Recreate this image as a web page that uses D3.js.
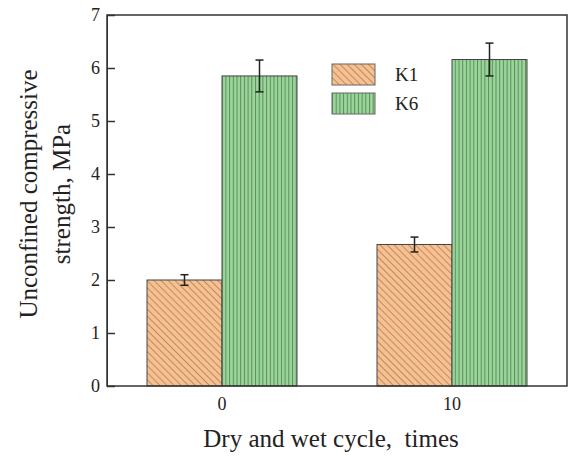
<html><head>
  <script src="https://d3js.org/d3.v7.min.js"></script>
  <style>
  body { margin: 0; background: #fff; }
  svg text { font-family: "Liberation Serif", "DejaVu Serif", serif; fill: #222; }
  .axis line, .axis path { stroke: #333; }
  </style>
</head>
<body>
  <svg id="chart" width="569" height="456"></svg>
  <script>
    // data
    const cycles = ["0", "10"];
    const seriesNames = ["K1", "K6"];
    const k1Values = [2.0, 2.67];
    const k1Errors = [0.1, 0.14];
    const k6Values = [5.85, 6.16];
    const k6Errors = [0.3, 0.31];
    const yTicks = [0, 1, 2, 3, 4, 5, 6, 7];

    const rows = cycles.map((c, i) => ({
      cycle: c,
      K1: {v: k1Values[i], e: k1Errors[i]},
      K6: {v: k6Values[i], e: k6Errors[i]}
    }));

    const serif = "'Liberation Serif', 'DejaVu Serif', serif";
    let svg = d3.select("svg#chart");
    const margins = {"top":15, "right":2, "bottom":70, "left":107};
    const chartWidth = 569 - margins.left - margins.right;
    const chartHeight = 456 - margins.top - margins.bottom;

    // hatch patterns
    let defs = svg.append("defs");
    let p1 = defs.append("pattern").attr("id","hatchK1")
                 .attr("patternUnits","userSpaceOnUse")
                 .attr("width",5).attr("height",5)
                 .attr("patternTransform","rotate(-45)");
    p1.append("rect").attr("width",5).attr("height",5).attr("fill","#f9c08f");
    p1.append("line").attr("x1",0).attr("y1",0).attr("x2",0).attr("y2",5)
      .attr("stroke","#8a6a50").attr("stroke-width",1.2);
    let p6 = defs.append("pattern").attr("id","hatchK6")
                 .attr("patternUnits","userSpaceOnUse")
                 .attr("width",3.7).attr("height",10);
    p6.append("rect").attr("width",3.7).attr("height",10).attr("fill","#99d699");
    p6.append("line").attr("x1",0.5).attr("y1",0).attr("x2",0.5).attr("y2",10)
      .attr("stroke","#5f8a5f").attr("stroke-width",1);

    const fills = {"K1":"url(#hatchK1)", "K6":"url(#hatchK6)"};

    let g = svg.append("g").attr("transform","translate("+ margins.left +","+ margins.top +")");

    const pad = 80/230;
    const xScale = d3.scaleBand().domain(cycles).range([0, chartWidth])
                     .paddingInner(pad).paddingOuter(pad/2);
    const subScale = d3.scaleBand().domain(seriesNames).range([0, xScale.bandwidth()]);
    const yScale = d3.scaleLinear().domain([0, 7]).range([chartHeight, 0]);

    // bars
    rows.forEach(d => {
      seriesNames.forEach(s => {
        const x = xScale(d.cycle) + subScale(s);
        g.append("rect")
         .attr("x", x)
         .attr("y", yScale(d[s].v))
         .attr("width", subScale.bandwidth())
         .attr("height", chartHeight - yScale(d[s].v))
         .attr("fill", fills[s])
         .attr("stroke","#444")
         .attr("stroke-width",1);

        // error bar
        const cx = x + subScale.bandwidth()/2;
        const top = yScale(d[s].v + d[s].e);
        const bot = yScale(d[s].v - d[s].e);
        let eb = g.append("g").attr("stroke","#222").attr("stroke-width",1.5);
        eb.append("line").attr("x1",cx).attr("x2",cx).attr("y1",top).attr("y2",bot);
        eb.append("line").attr("x1",cx-4).attr("x2",cx+4).attr("y1",top).attr("y2",top);
        eb.append("line").attr("x1",cx-4).attr("x2",cx+4).attr("y1",bot).attr("y2",bot);
      });
    });

    // axes
    let yAxis = d3.axisLeft(yScale).tickValues(yTicks).tickFormat(d3.format("d"))
                  .tickSizeInner(-8).tickSizeOuter(0).tickPadding(6);
    let ya = g.append("g").attr("class","axis").call(yAxis).attr("font-family",serif);
    ya.selectAll("text").attr("font-size",18).attr("x",-7);
    ya.selectAll("line").attr("stroke-width",1.5);

    let xAxis = d3.axisBottom(xScale).tickSize(0).tickPadding(11);
    let xa = g.append("g").attr("class","axis").attr("transform","translate(0,"+ chartHeight +")")
              .call(xAxis).attr("font-family",serif);
    xa.selectAll("text").attr("font-size",18);
    xa.select(".domain").remove();

    // frame
    g.append("rect").attr("x",0).attr("y",0).attr("width",chartWidth).attr("height",chartHeight)
     .attr("fill","none").attr("stroke","#333").attr("stroke-width",1.5);

    // legend
    let legend = g.append("g").attr("transform","translate(225,49)");
    seriesNames.forEach((s,i) => {
      let row = legend.append("g").attr("transform","translate(0,"+ (i*29) +")");
      row.append("rect").attr("width",43).attr("height",21)
         .attr("fill",fills[s]).attr("stroke","#666").attr("stroke-width",1);
      row.append("text").attr("x",63).attr("y",17).attr("font-size",19).text(s);
    });

    // axis titles
    svg.append("text")
       .attr("x", 331).attr("y", 447)
       .attr("text-anchor","middle")
       .attr("font-size",25)
       .attr("xml:space","preserve")
       .text("Dry and wet cycle,  times");

    let yt = svg.append("text")
       .attr("transform","translate(37,194) rotate(-90)")
       .attr("text-anchor","middle")
       .attr("font-size",25);
    yt.append("tspan").attr("x",0).attr("y",0).text("Unconfined compressive");
    yt.append("tspan").attr("x",0).attr("y",33).text("strength, MPa");
  </script>
</body>
</html>
